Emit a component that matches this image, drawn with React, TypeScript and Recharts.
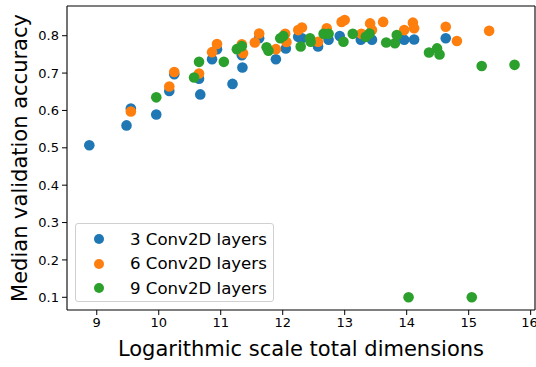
import React from "react";
import { ScatterChart, Scatter, XAxis, YAxis, ReferenceLine } from "recharts";

if (typeof document !== "undefined") {
  document.body.style.margin = "0";
}

const xTicks = [9, 10, 11, 12, 13, 14, 15, 16];
const yTicks = [0.1, 0.2, 0.3, 0.4, 0.5, 0.6, 0.7, 0.8];
const xDomain = [8.52, 16.07];
const yDomain = [0.066, 0.8795];

const conv3 = [
  { x: 8.88, y: 0.507 }, { x: 9.48, y: 0.56 }, { x: 9.55, y: 0.605 }, { x: 9.96, y: 0.589 },
  { x: 10.17, y: 0.652 }, { x: 10.25, y: 0.697 }, { x: 10.65, y: 0.685 }, { x: 10.67, y: 0.643 },
  { x: 10.86, y: 0.737 }, { x: 10.94, y: 0.764 }, { x: 11.19, y: 0.671 }, { x: 11.34, y: 0.748 },
  { x: 11.35, y: 0.715 }, { x: 11.62, y: 0.793 }, { x: 11.89, y: 0.737 }, { x: 12.05, y: 0.766 },
  { x: 12.25, y: 0.797 }, { x: 12.31, y: 0.793 }, { x: 12.57, y: 0.771 }, { x: 12.74, y: 0.789 },
  { x: 12.92, y: 0.799 }, { x: 13.26, y: 0.789 }, { x: 13.44, y: 0.789 }, { x: 13.96, y: 0.789 },
  { x: 14.12, y: 0.79 }, { x: 14.63, y: 0.793 },
];

const conv6 = [
  { x: 9.55, y: 0.597 }, { x: 10.17, y: 0.664 }, { x: 10.25, y: 0.703 }, { x: 10.65, y: 0.699 },
  { x: 10.86, y: 0.756 }, { x: 10.94, y: 0.778 }, { x: 11.34, y: 0.777 }, { x: 11.36, y: 0.753 },
  { x: 11.55, y: 0.782 }, { x: 11.62, y: 0.806 }, { x: 11.89, y: 0.764 }, { x: 12.04, y: 0.805 },
  { x: 12.06, y: 0.783 }, { x: 12.25, y: 0.815 }, { x: 12.31, y: 0.822 }, { x: 12.57, y: 0.784 },
  { x: 12.71, y: 0.82 }, { x: 12.95, y: 0.837 }, { x: 13.0, y: 0.842 }, { x: 13.27, y: 0.805 },
  { x: 13.41, y: 0.833 }, { x: 13.44, y: 0.815 }, { x: 13.62, y: 0.837 }, { x: 13.96, y: 0.815 },
  { x: 14.1, y: 0.835 }, { x: 14.12, y: 0.82 }, { x: 14.63, y: 0.824 }, { x: 14.81, y: 0.786 },
  { x: 15.33, y: 0.813 },
];

const conv9 = [
  { x: 9.96, y: 0.635 }, { x: 10.57, y: 0.688 }, { x: 10.65, y: 0.73 }, { x: 11.05, y: 0.73 },
  { x: 11.26, y: 0.764 }, { x: 11.34, y: 0.772 }, { x: 11.74, y: 0.769 }, { x: 11.77, y: 0.76 },
  { x: 11.96, y: 0.793 }, { x: 12.01, y: 0.799 }, { x: 12.29, y: 0.771 }, { x: 12.44, y: 0.793 },
  { x: 12.45, y: 0.784 }, { x: 12.66, y: 0.805 }, { x: 12.74, y: 0.805 }, { x: 12.98, y: 0.784 },
  { x: 13.13, y: 0.805 }, { x: 13.34, y: 0.797 }, { x: 13.4, y: 0.806 }, { x: 13.67, y: 0.782 },
  { x: 13.81, y: 0.78 }, { x: 13.84, y: 0.802 }, { x: 14.03, y: 0.1 }, { x: 14.36, y: 0.755 },
  { x: 14.49, y: 0.766 }, { x: 14.53, y: 0.75 }, { x: 15.05, y: 0.1 }, { x: 15.21, y: 0.719 },
  { x: 15.74, y: 0.722 },
];

const seriesNames = ["3 Conv2D layers", "6 Conv2D layers", "9 Conv2D layers"];
const colors = ["#1f77b4", "#ff7f0e", "#2ca02c"];

const FONT = "DejaVu Sans";

const dot = (color: string) => (props: any) => (
  <circle cx={props.cx} cy={props.cy} r={5.3} fill={color} />
);

const LegendBox = () => (
  <div
    style={{
      position: "absolute",
      left: 75,
      top: 223,
      width: 199,
      height: 79,
      boxSizing: "border-box",
      border: "1px solid #d0d0d0",
      borderRadius: 3,
      background: "rgba(255,255,255,0.8)",
      fontFamily: FONT,
      fontSize: 16.6,
      color: "#000",
    }}
  >
    {seriesNames.map((n, i) => (
      <div key={n} style={{ position: "absolute", left: 0, top: 5 + i * 24.5, height: 20, display: "flex", alignItems: "center" }}>
        <svg width={48} height={20} style={{ display: "block" }}>
          <circle cx={23} cy={10} r={5} fill={colors[i]} />
        </svg>
        <span style={{ marginLeft: 6, whiteSpace: "nowrap" }}>{n}</span>
      </div>
    ))}
  </div>
);

export default function App() {
  const tickStyle = { fill: "#000", fontSize: 13, fontFamily: FONT };
  return (
    <div style={{ position: "relative", width: 536, height: 367 }}>
      <ScatterChart width={536} height={367} margin={{ top: 6, right: 1, bottom: 0, left: 0 }}>
        <XAxis
          type="number"
          dataKey="x"
          domain={xDomain}
          ticks={xTicks}
          allowDataOverflow
          height={57}
          tick={tickStyle}
          tickSize={5}
          tickMargin={3}
          stroke="#000"
          axisLine={{ stroke: "#000", strokeWidth: 1.1 }}
          label={{ value: "Logarithmic scale total dimensions", position: "insideBottom", offset: 11, style: { fill: "#000", fontSize: 21, fontFamily: FONT } }}
        />
        <YAxis
          type="number"
          dataKey="y"
          domain={yDomain}
          ticks={yTicks}
          allowDataOverflow
          width={67}
          tick={tickStyle}
          tickSize={5}
          tickMargin={3}
          tickFormatter={(v: number) => v.toFixed(1)}
          stroke="#000"
          axisLine={{ stroke: "#000", strokeWidth: 1.1 }}
          label={{ value: "Median validation accuracy", angle: -90, position: "insideLeft", offset: 20, style: { fill: "#000", fontSize: 21, fontFamily: FONT, textAnchor: "middle" } }}
        />
        <ReferenceLine y={yDomain[1]} stroke="#000" strokeWidth={1.1} ifOverflow="extendDomain" />
        <ReferenceLine x={xDomain[1]} stroke="#000" strokeWidth={1.1} ifOverflow="extendDomain" />
        <Scatter name={seriesNames[0]} data={conv3} fill={colors[0]} shape={dot(colors[0])} isAnimationActive={false} />
        <Scatter name={seriesNames[1]} data={conv6} fill={colors[1]} shape={dot(colors[1])} isAnimationActive={false} />
        <Scatter name={seriesNames[2]} data={conv9} fill={colors[2]} shape={dot(colors[2])} isAnimationActive={false} />
      </ScatterChart>
      <LegendBox />
    </div>
  );
}
